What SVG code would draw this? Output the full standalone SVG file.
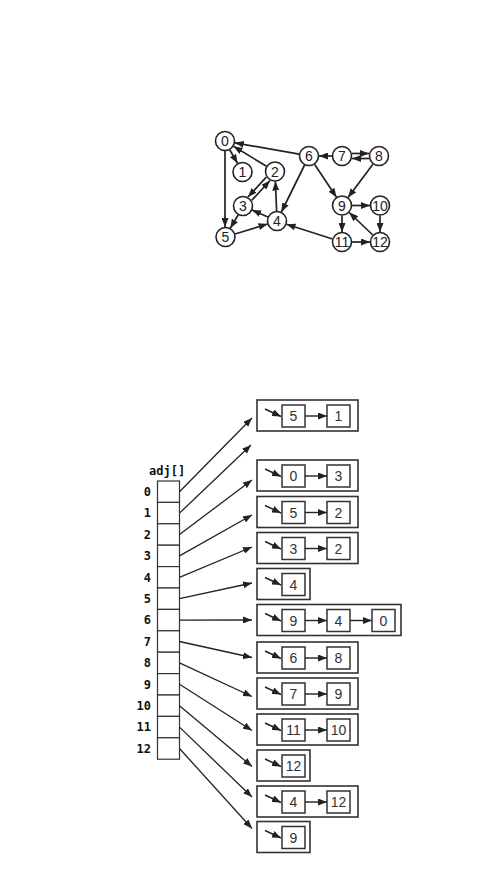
<svg xmlns="http://www.w3.org/2000/svg" width="503" height="896" viewBox="0 0 503 896">
<style>
.bg{fill:#fff}
.nd circle{fill:#fff;stroke:#222;stroke-width:1.6}
.nd text{font-family:"Liberation Sans","DejaVu Sans",sans-serif;font-size:14px;fill:#222;text-anchor:middle}
.e{stroke:#222;stroke-width:1.7;fill:none;marker-end:url(#ah)}
.a{stroke:#222;stroke-width:1.3;fill:none;marker-end:url(#ah)}
.p{stroke:#222;stroke-width:1.4;fill:none;marker-end:url(#ah)}
.ob{fill:#fff;stroke:#333;stroke-width:1.6}
.ib{fill:#fff;stroke:#333;stroke-width:1.5}
.lt{font-family:"Liberation Sans","DejaVu Sans",sans-serif;font-size:14px;fill:#333;text-anchor:middle}
.idx{font-family:"DejaVu Sans Mono","Liberation Mono",monospace;font-weight:bold;font-size:12px;fill:#111;text-anchor:end}
.adj{font-family:"DejaVu Sans Mono","Liberation Mono",monospace;font-weight:bold;font-size:12px;fill:#111}
.cell{fill:#fff;stroke:#333;stroke-width:1.2}
</style>
<defs>
<marker id="ah" markerUnits="userSpaceOnUse" markerWidth="9" markerHeight="7" refX="9" refY="3.5" orient="auto">
<path d="M0,0 L9,3.5 L0,7 z" fill="#222"/>
</marker>
<g id="ptr"><line x1="265" y1="9" x2="281" y2="16.5" class="p"/></g>
</defs>
<rect class="bg" x="0" y="0" width="503" height="896"/>

<g id="graph-edges">
<line class="e" x1="225" y1="151" x2="225" y2="227"/>
<line class="e" x1="229.7" y1="149.8" x2="237.5" y2="163.2"/>
<line class="e" x1="266.5" y1="166.2" x2="233.5" y2="146.3"/>
<line class="e" x1="266.3" y1="177.1" x2="248.0" y2="197.0"/>
<line class="e" x1="251.7" y1="200.4" x2="270.0" y2="180.5"/>
<line class="e" x1="238.2" y1="214.8" x2="230.3" y2="228.2"/>
<line class="e" x1="267.9" y1="217.0" x2="252.1" y2="210.0"/>
<line class="e" x1="276.6" y1="211.0" x2="275.4" y2="181.5"/>
<line class="e" x1="235.0" y1="234.0" x2="267.5" y2="224.0"/>
<line class="e" x1="299.2" y1="154.2" x2="234.8" y2="142.8"/>
<line class="e" x1="304.6" y1="165.0" x2="281.4" y2="212.0"/>
<line class="e" x1="314.5" y1="164.3" x2="336.5" y2="197.2"/>
<line class="e" x1="332" y1="156" x2="319" y2="156"/>
<line class="e" x1="352" y1="153.5" x2="369" y2="153.5"/>
<line class="e" x1="369" y1="158.5" x2="352" y2="158.5"/>
<line class="e" x1="373.1" y1="164.0" x2="348.0" y2="197.5"/>
<line class="e" x1="342" y1="215.5" x2="342" y2="232"/>
<line class="e" x1="352" y1="205.5" x2="370" y2="205.5"/>
<line class="e" x1="380" y1="215.5" x2="380" y2="232"/>
<line class="e" x1="332.5" y1="239.0" x2="286.5" y2="224.2"/>
<line class="e" x1="352" y1="242" x2="370" y2="242"/>
<line class="e" x1="372.8" y1="235.0" x2="349.2" y2="212.5"/>
</g>

<g id="n0" class="nd"><circle cx="225" cy="141" r="9.5"/><text x="225" y="146">0</text></g>
<g id="n1" class="nd"><circle cx="242.5" cy="172" r="9.5"/><text x="242.5" y="177">1</text></g>
<g id="n2" class="nd"><circle cx="275" cy="171.5" r="9.5"/><text x="275" y="176.5">2</text></g>
<g id="n3" class="nd"><circle cx="243" cy="206" r="9.5"/><text x="243" y="211">3</text></g>
<g id="n4" class="nd"><circle cx="277" cy="221" r="9.5"/><text x="277" y="226">4</text></g>
<g id="n5" class="nd"><circle cx="225.5" cy="237" r="9.5"/><text x="225.5" y="242">5</text></g>
<g id="n6" class="nd"><circle cx="309" cy="156" r="9.5"/><text x="309" y="161">6</text></g>
<g id="n7" class="nd"><circle cx="342" cy="156" r="9.5"/><text x="342" y="161">7</text></g>
<g id="n8" class="nd"><circle cx="379" cy="156" r="9.5"/><text x="379" y="161">8</text></g>
<g id="n9" class="nd"><circle cx="342" cy="205.5" r="9.5"/><text x="342" y="210.5">9</text></g>
<g id="n10" class="nd"><circle cx="380" cy="205.5" r="9.5"/><text x="380" y="210.5">10</text></g>
<g id="n11" class="nd"><circle cx="342" cy="242" r="9.5"/><text x="342" y="247">11</text></g>
<g id="n12" class="nd"><circle cx="380" cy="242" r="9.5"/><text x="380" y="247">12</text></g>

<g id="adj-array">
<text class="adj" x="149" y="475">adj[]</text>
<rect class="cell" x="157.5" y="481" width="22" height="21.4"/>
<rect class="cell" x="157.5" y="502.4" width="22" height="21.4"/>
<rect class="cell" x="157.5" y="523.8" width="22" height="21.4"/>
<rect class="cell" x="157.5" y="545.2" width="22" height="21.4"/>
<rect class="cell" x="157.5" y="566.6" width="22" height="21.4"/>
<rect class="cell" x="157.5" y="588" width="22" height="21.4"/>
<rect class="cell" x="157.5" y="609.4" width="22" height="21.4"/>
<rect class="cell" x="157.5" y="630.8" width="22" height="21.4"/>
<rect class="cell" x="157.5" y="652.2" width="22" height="21.4"/>
<rect class="cell" x="157.5" y="673.6" width="22" height="21.4"/>
<rect class="cell" x="157.5" y="695" width="22" height="21.4"/>
<rect class="cell" x="157.5" y="716.4" width="22" height="21.4"/>
<rect class="cell" x="157.5" y="737.8" width="22" height="21.4"/>
<text class="idx" x="151" y="496">0</text>
<text class="idx" x="151" y="517.4">1</text>
<text class="idx" x="151" y="538.8">2</text>
<text class="idx" x="151" y="560.2">3</text>
<text class="idx" x="151" y="581.6">4</text>
<text class="idx" x="151" y="603">5</text>
<text class="idx" x="151" y="624.4">6</text>
<text class="idx" x="151" y="645.8">7</text>
<text class="idx" x="151" y="667.2">8</text>
<text class="idx" x="151" y="688.6">9</text>
<text class="idx" x="151" y="710">10</text>
<text class="idx" x="151" y="731.4">11</text>
<text class="idx" x="151" y="752.8">12</text>
</g>

<g id="array-pointers">
<line class="a" x1="179.5" y1="491.7" x2="252" y2="418"/>
<line class="a" x1="179.5" y1="513.1" x2="251" y2="445"/>
<line class="a" x1="179.5" y1="534.5" x2="252" y2="480"/>
<line class="a" x1="179.5" y1="555.9" x2="252" y2="515"/>
<line class="a" x1="179.5" y1="577.3" x2="252" y2="547"/>
<line class="a" x1="179.5" y1="598.7" x2="252" y2="583"/>
<line class="a" x1="179.5" y1="620.1" x2="252" y2="620"/>
<line class="a" x1="179.5" y1="641.5" x2="252" y2="657.5"/>
<line class="a" x1="179.5" y1="662.9" x2="252" y2="696.5"/>
<line class="a" x1="179.5" y1="684.3" x2="252" y2="730.5"/>
<line class="a" x1="179.5" y1="705.7" x2="252" y2="766.5"/>
<line class="a" x1="179.5" y1="727.1" x2="252" y2="797"/>
<line class="a" x1="179.5" y1="748.5" x2="252" y2="828.5"/>
</g>

<g id="list0" transform="translate(0,400)">
<rect class="ob" x="257" y="0" width="101" height="31"/>
<use href="#ptr"/>
<rect class="ib" x="282" y="5" width="23" height="22"/><text class="lt" x="293.5" y="21">5</text>
<line class="p" x1="305" y1="16" x2="327" y2="16"/>
<rect class="ib" x="327" y="5" width="23" height="22"/><text class="lt" x="338.5" y="21">1</text>
</g>
<g id="list2" transform="translate(0,460)">
<rect class="ob" x="257" y="0" width="101" height="31"/>
<use href="#ptr"/>
<rect class="ib" x="282" y="5" width="23" height="22"/><text class="lt" x="293.5" y="21">0</text>
<line class="p" x1="305" y1="16" x2="327" y2="16"/>
<rect class="ib" x="327" y="5" width="23" height="22"/><text class="lt" x="338.5" y="21">3</text>
</g>
<g id="list3" transform="translate(0,496.5)">
<rect class="ob" x="257" y="0" width="101" height="31"/>
<use href="#ptr"/>
<rect class="ib" x="282" y="5" width="23" height="22"/><text class="lt" x="293.5" y="21">5</text>
<line class="p" x1="305" y1="16" x2="327" y2="16"/>
<rect class="ib" x="327" y="5" width="23" height="22"/><text class="lt" x="338.5" y="21">2</text>
</g>
<g id="list4" transform="translate(0,532.5)">
<rect class="ob" x="257" y="0" width="101" height="31"/>
<use href="#ptr"/>
<rect class="ib" x="282" y="5" width="23" height="22"/><text class="lt" x="293.5" y="21">3</text>
<line class="p" x1="305" y1="16" x2="327" y2="16"/>
<rect class="ib" x="327" y="5" width="23" height="22"/><text class="lt" x="338.5" y="21">2</text>
</g>
<g id="list5" transform="translate(0,568.5)">
<rect class="ob" x="257" y="0" width="53" height="31"/>
<use href="#ptr"/>
<rect class="ib" x="282" y="5" width="23" height="22"/><text class="lt" x="293.5" y="21">4</text>
</g>
<g id="list6" transform="translate(0,604.5)">
<rect class="ob" x="257" y="0" width="144" height="31"/>
<use href="#ptr"/>
<rect class="ib" x="282" y="5" width="23" height="22"/><text class="lt" x="293.5" y="21">9</text>
<line class="p" x1="305" y1="16" x2="327" y2="16"/>
<rect class="ib" x="327" y="5" width="23" height="22"/><text class="lt" x="338.5" y="21">4</text>
<line class="p" x1="350" y1="16" x2="372" y2="16"/>
<rect class="ib" x="372" y="5" width="23" height="22"/><text class="lt" x="383.5" y="21">0</text>
</g>
<g id="list7" transform="translate(0,642)">
<rect class="ob" x="257" y="0" width="101" height="31"/>
<use href="#ptr"/>
<rect class="ib" x="282" y="5" width="23" height="22"/><text class="lt" x="293.5" y="21">6</text>
<line class="p" x1="305" y1="16" x2="327" y2="16"/>
<rect class="ib" x="327" y="5" width="23" height="22"/><text class="lt" x="338.5" y="21">8</text>
</g>
<g id="list8" transform="translate(0,678)">
<rect class="ob" x="257" y="0" width="101" height="31"/>
<use href="#ptr"/>
<rect class="ib" x="282" y="5" width="23" height="22"/><text class="lt" x="293.5" y="21">7</text>
<line class="p" x1="305" y1="16" x2="327" y2="16"/>
<rect class="ib" x="327" y="5" width="23" height="22"/><text class="lt" x="338.5" y="21">9</text>
</g>
<g id="list9" transform="translate(0,714)">
<rect class="ob" x="257" y="0" width="101" height="31"/>
<use href="#ptr"/>
<rect class="ib" x="282" y="5" width="23" height="22"/><text class="lt" x="293.5" y="21">11</text>
<line class="p" x1="305" y1="16" x2="327" y2="16"/>
<rect class="ib" x="327" y="5" width="23" height="22"/><text class="lt" x="338.5" y="21">10</text>
</g>
<g id="list10" transform="translate(0,750)">
<rect class="ob" x="257" y="0" width="53" height="31"/>
<use href="#ptr"/>
<rect class="ib" x="282" y="5" width="23" height="22"/><text class="lt" x="293.5" y="21">12</text>
</g>
<g id="list11" transform="translate(0,786)">
<rect class="ob" x="257" y="0" width="101" height="31"/>
<use href="#ptr"/>
<rect class="ib" x="282" y="5" width="23" height="22"/><text class="lt" x="293.5" y="21">4</text>
<line class="p" x1="305" y1="16" x2="327" y2="16"/>
<rect class="ib" x="327" y="5" width="23" height="22"/><text class="lt" x="338.5" y="21">12</text>
</g>
<g id="list12" transform="translate(0,821.5)">
<rect class="ob" x="257" y="0" width="53" height="31"/>
<use href="#ptr"/>
<rect class="ib" x="282" y="5" width="23" height="22"/><text class="lt" x="293.5" y="21">9</text>
</g>
</svg>
